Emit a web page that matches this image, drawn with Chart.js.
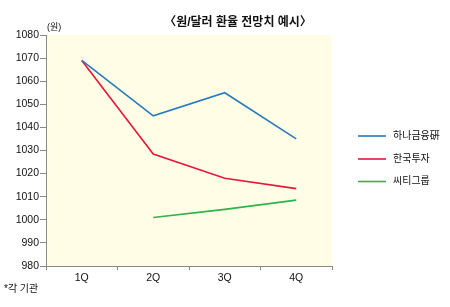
<!DOCTYPE html>
<html>
<head>
<meta charset="utf-8">
<script src="https://cdn.jsdelivr.net/npm/chart.js@4"></script>
<style>
  html, body { margin: 0; padding: 0; background: #fff; }
  #wrap { width: 450px; height: 307px; position: relative; }
</style>
</head>
<body>
<div id="wrap"><canvas id="graph" width="450" height="307"></canvas></div>
<script>
// data
const quarters = ['1Q', '2Q', '3Q', '4Q'];
const hana = [1069, 1045, 1055, 1035];
const hankook = [1069, 1028.5, 1018, 1013.5];
const citi = [null, 1001, 1004.5, 1008.5];
const seriesNames = ['하나금융硏', '한국투자', '씨티그룹'];
const yTicks = [980, 1080, 10]; // min, max, step

const titleText = '〈원/달러 환율 전망치 예시〉';
const unitText = '(원)';
const noteText = '*각 기관';

const font = "'Liberation Sans', 'Noto Sans CJK KR', sans-serif";

// paints the plot area yellow and writes the extra texts + legend
const decor = {
    id: 'decor',
    beforeDraw(chart) {
        const { ctx, chartArea: a } = chart;
        ctx.save();
        ctx.fillStyle = '#fffde6';
        ctx.fillRect(a.left, a.top, a.right - a.left, a.bottom - a.top);
        ctx.restore();
    },
    afterDraw(chart) {
        const { ctx, chartArea: a } = chart;
        ctx.save();
        ctx.fillStyle = '#111';
        ctx.textBaseline = 'middle';
        ctx.textAlign = 'center';
        ctx.font = "bold 12px " + font;
        ctx.fillText(titleText, 238, 23);

        ctx.textAlign = 'left';
        ctx.font = "9px " + font;
        ctx.fillText(unitText, a.left + 1, 28);

        ctx.font = "10px " + font;
        ctx.fillText(noteText, 4, 289);

        // legend
        const ys = [136, 159, 181.5];
        chart.data.datasets.forEach((ds, i) => {
            ctx.strokeStyle = ds.borderColor;
            ctx.lineWidth = 1.6;
            ctx.beginPath();
            ctx.moveTo(358, ys[i]);
            ctx.lineTo(386, ys[i]);
            ctx.stroke();
            ctx.fillStyle = '#111';
            ctx.fillText(ds.label, 393, ys[i]);
        });
        ctx.restore();
    }
};

const ctx = document.getElementById('graph').getContext('2d');

new Chart(ctx, {
    type: 'line',
    data: {
        labels: quarters,
        datasets: [{
            label: seriesNames[0],
            data: hana,
            borderColor: '#2a7bbb',
        }, {
            label: seriesNames[1],
            data: hankook,
            borderColor: '#e5173d',
        }, {
            label: seriesNames[2],
            data: citi,
            borderColor: '#2eb24c',
        }]
    },
    options: {
        responsive: false,
        animation: false,
        layout: { padding: { left: 0, right: 118, top: 35, bottom: 0 } },
        elements: {
            line: { borderWidth: 1.6, tension: 0 },
            point: { radius: 0 }
        },
        plugins: {
            legend: { display: false },
            tooltip: { enabled: false }
        },
        scales: {
            x: {
                offset: true,
                grid: { offset: true, drawOnChartArea: false, tickLength: 4, color: '#888' },
                border: { color: '#888' },
                ticks: { color: '#111', font: { family: font, size: 10.5 }, padding: 2, maxRotation: 0 },
                afterFit(scale) { scale.height = 41; }
            },
            y: {
                min: yTicks[0],
                max: yTicks[1],
                grid: { drawOnChartArea: false, tickLength: 6, color: '#888' },
                border: { color: '#888' },
                ticks: {
                    stepSize: yTicks[2], color: '#111', font: { family: font, size: 10.5 }, padding: 1,
                    callback: (v) => String(v)
                },
                afterFit(scale) { scale.width = 46; }
            }
        }
    },
    plugins: [decor]
});
</script>
</body>
</html>
